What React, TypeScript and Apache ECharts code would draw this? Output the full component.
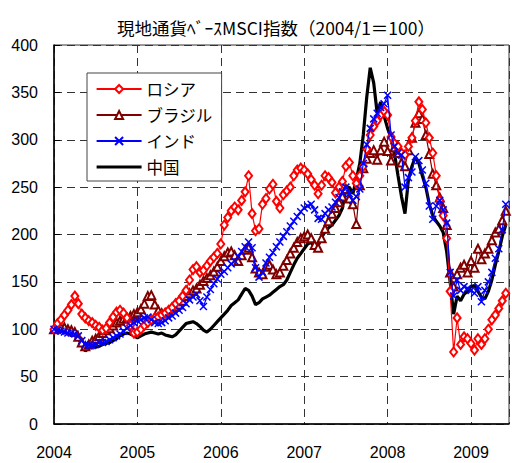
import React, { useEffect, useRef } from 'react';
import * as echarts from 'echarts';

// Semi-monthly observations starting 2004/1 (index 100 = 2004/1)
const START_YEAR = 2004;
const STEPS_PER_YEAR = 24;
const yearTicks = [2004, 2005, 2006, 2007, 2008, 2009];
const seriesNames = ['ロシア', 'ブラジル', 'インド', '中国'];

const russia = [
  100, 106, 110, 115, 120, 126, 135, 127, 116, 112, 109, 107, 104, 102, 99, 101, 107, 113, 118, 120, 117, 112, 104, 96,
  97, 100, 104, 107, 110, 112, 113, 115, 117, 120, 123, 127, 130, 135, 141, 152, 163, 166, 160, 162, 167, 172, 176, 180,
  190, 210, 218, 225, 229, 226, 236, 245, 262, 222, 204, 206, 232, 238, 248, 253, 235, 228, 242, 246, 250, 262, 268, 270,
  268, 264, 258, 252, 243, 252, 262, 260, 255, 244, 250, 256, 272, 276, 262, 254, 262, 272, 290, 305, 314, 320, 326, 330,
  326, 303, 296, 293, 286, 284, 293, 302, 320, 340, 332, 318, 302, 286, 262, 236, 220, 196, 140, 76, 112, 84, 92, 90,
  85, 78, 90, 84, 90, 100, 110, 115, 122, 130, 138,
];

const brazil = [
  100, 101, 102, 102, 100, 99, 97, 92, 86, 82, 84, 88, 90, 93, 96, 99, 101, 104, 107, 109, 111, 112, 114, 116,
  118, 121, 127, 135, 136, 126, 120, 117, 117, 119, 122, 124, 126, 130, 135, 138, 141, 143, 147, 151, 154, 157, 161, 166,
  172, 177, 181, 182, 178, 172, 178, 184, 186, 176, 164, 160, 158, 166, 168, 163, 158, 160, 167, 173, 180, 186, 192, 196,
  198, 200, 196, 189, 186, 196, 206, 214, 222, 228, 234, 240, 248, 238, 232, 211, 252, 270, 280, 286, 289, 279, 289, 298,
  288, 278, 292, 286, 276, 272, 289, 302, 318, 328, 322, 305, 285, 264, 252, 239, 228, 210, 160, 145, 158, 165, 168, 160,
  172, 165, 185, 174, 180, 185, 194, 202, 206, 215, 225,
];

const india = [
  100, 99, 98, 97, 96, 96, 95, 93, 88, 84, 83, 83, 84, 86, 86, 87, 89, 91, 93, 95, 98, 101, 104, 107,
  109, 110, 112, 113, 110, 107, 106, 107, 109, 112, 114, 117, 120, 123, 127, 131, 134, 137, 130, 124, 134, 142, 148, 153,
  158, 161, 165, 169, 172, 177, 182, 187, 192, 186, 165, 155, 160, 170, 176, 181, 187, 192, 198, 203, 209, 214, 219, 224,
  228, 230, 232, 226, 217, 216, 222, 226, 229, 234, 239, 245, 250, 243, 236, 240, 248, 275, 295, 312, 322, 328, 334, 338,
  347, 305, 293, 286, 284, 250, 260, 266, 282, 278, 268, 254, 230, 216, 230, 236, 226, 212, 160, 135, 152, 141, 145, 143,
  141, 138, 145, 129, 141, 150, 160, 175, 185, 205, 232,
];

const china = [
  100, 99, 98, 97, 97, 95, 93, 90, 84, 77, 80, 82, 81, 82, 84, 85, 86, 88, 90, 93, 95, 96, 95, 93,
  91, 93, 95, 96, 97, 96, 95, 96, 94, 93, 92, 94, 98, 102, 106, 107, 108, 106, 103, 99, 97, 100, 104, 108,
  112, 116, 120, 125, 128, 131, 137, 143, 141, 135, 126, 128, 132, 134, 136, 139, 142, 145, 147, 152, 160, 168, 175, 180,
  185, 190, 192, 186, 188, 197, 203, 207, 210, 215, 220, 228, 248, 250, 243, 258, 275, 305, 345, 376, 360, 328, 340, 325,
  312, 302, 285, 262, 240, 222, 258, 272, 282, 275, 262, 250, 232, 220, 214, 209, 202, 182, 150, 116, 135, 130, 137, 140,
  145, 146, 140, 134, 132, 140, 152, 168, 182, 198, 210,
];

const periods = russia.map((_, i) => START_YEAR + i / STEPS_PER_YEAR);
const pair = (arr: number[]) => arr.map((v, i) => [periods[i], v]);

export default function App() {
  const ref = useRef<HTMLDivElement>(null);
  useEffect(() => {
    if (!ref.current) return;
    const chart = echarts.init(ref.current, null, { renderer: 'svg' });
    const jp = '"Noto Sans CJK JP", "Noto Sans", sans-serif';
    const num = '"Liberation Sans", Arial, sans-serif';
    const dash = { type: [8, 5] as any, color: '#333', width: 1 };
    chart.setOption({
      animation: false,
      backgroundColor: '#ffffff',
      title: {
        text: '現地通貨ﾍﾞｰｽMSCI指数（2004/1＝100）',
        left: 112,
        top: 14,
        textStyle: { fontFamily: jp, fontSize: 17.5, fontWeight: 'normal', color: '#000' },
      },
      grid: { left: 54, right: -3, top: 45, bottom: 39, show: true, borderColor: '#333', borderWidth: 1 },
      legend: {
        orient: 'vertical',
        left: 87,
        top: 73,
        data: [
          { name: seriesNames[0] },
          { name: seriesNames[1] },
          { name: seriesNames[2] },
          { name: seriesNames[3], itemStyle: { opacity: 0 }, lineStyle: { width: 3.2, color: '#000' } },
        ],
        backgroundColor: '#fff',
        borderColor: '#444',
        borderWidth: 1,
        padding: [7, 9, 5, 8],
        itemWidth: 45,
        itemHeight: 10,
        itemGap: 8,
        textStyle: { fontFamily: jp, fontSize: 16.5, color: '#000', lineHeight: 18 },
      },
      xAxis: {
        type: 'value',
        min: yearTicks[0],
        max: yearTicks[0] + (512 + 3 - 54) / 84.5,
        interval: 1,
        axisLine: { show: true, lineStyle: { color: '#000', width: 1.5 } },
        axisTick: { show: false },
        axisLabel: {
          margin: 20,
          fontFamily: num,
          fontSize: 16,
          color: '#000',
          formatter: (v: number) => (yearTicks.includes(v) ? String(v) : ''),
        },
        splitLine: { show: true, lineStyle: dash },
      },
      yAxis: {
        type: 'value',
        min: 0,
        max: 400,
        interval: 50,
        axisLine: { show: true, lineStyle: { color: '#000', width: 1.5 } },
        axisTick: { show: true, inside: true, length: 6, lineStyle: { color: '#000' } },
        axisLabel: { margin: 16, fontFamily: num, fontSize: 16, color: '#000' },
        splitLine: { show: true, lineStyle: dash },
      },
      series: [
        {
          name: seriesNames[0],
          type: 'line',
          data: pair(russia),
          symbol: 'emptyDiamond',
          symbolSize: [7, 9],
          lineStyle: { color: '#ff0000', width: 1.2 },
          itemStyle: { color: '#ff0000', borderWidth: 1.5 },
          z: 4,
        },
        {
          name: seriesNames[1],
          type: 'line',
          data: pair(brazil),
          symbol: 'emptyTriangle',
          symbolSize: 8,
          lineStyle: { color: '#800000', width: 1.2 },
          itemStyle: { color: '#800000', borderWidth: 1.5 },
          z: 3,
        },
        {
          name: seriesNames[2],
          type: 'line',
          data: pair(india),
          symbol: 'path://M0,0L10,10M10,0L0,10',
          symbolSize: 7,
          lineStyle: { color: '#0000ff', width: 1.2 },
          itemStyle: { color: '#0000ff', borderColor: '#0000ff', borderWidth: 1.5 },
          z: 5,
        },
        {
          name: seriesNames[3],
          type: 'line',
          data: pair(china),
          symbol: 'none',
          lineStyle: { color: '#000', width: 3.2 },
          itemStyle: { color: '#000' },
          z: 2,
        },
      ],
    });
    return () => chart.dispose();
  }, []);
  return <div ref={ref} style={{ position: 'fixed', left: 0, top: 0, width: 512, height: 463 }} />;
}
